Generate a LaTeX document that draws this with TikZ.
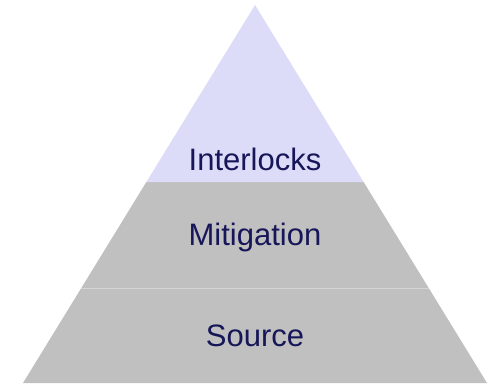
\documentclass[tikz,border=0pt]{standalone}
\usepackage{fontspec}
\setmainfont{Liberation Sans}
\usetikzlibrary{calc}
\definecolor{lavender}{RGB}{220,220,248}
\definecolor{layergray}{RGB}{192,192,192}
\definecolor{seamgray}{RGB}{212,212,212}
\definecolor{labelblue}{RGB}{22,22,88}
\begin{document}
\begin{tikzpicture}[x=1pt, y=-1pt, line join=round, line cap=round, font=\fontsize{31}{36}\selectfont]
		\def\cx{255} \def\ytop{5} \def\ybot{383} \def\half{232} % Kích thước
		\def\ya{182} \def\yb{288}
		\useasboundingbox (0,0) rectangle (495,383);
		\coordinate (apex) at (\cx,\ytop);
		\coordinate (bl) at (\cx-\half,\ybot);
		\coordinate (br) at (\cx+\half,\ybot);
		\coordinate (al) at ($(apex)!{(\ya-\ytop)/(\ybot-\ytop)}!(bl)$);
		\coordinate (ar) at ($(apex)!{(\ya-\ytop)/(\ybot-\ytop)}!(br)$);
		\coordinate (sl) at ($(apex)!{(\yb-\ytop)/(\ybot-\ytop)}!(bl)$);
		\coordinate (sr) at ($(apex)!{(\yb-\ytop)/(\ybot-\ytop)}!(br)$);
		\fill[layergray] (al)--(bl)--(br)--(ar)--cycle;
		\fill[lavender] (apex)--(al)--(ar)--cycle;
		\draw[seamgray, line width=1pt, line cap=butt] (sl)--(sr);
		\node[anchor=base, text=labelblue, inner sep=0pt] (interlocks) at (\cx,170) {Interlocks};
		\node[anchor=base, text=labelblue, inner sep=0pt] (mitigation) at (\cx,245) {Mitigation};
		\node[anchor=base, text=labelblue, inner sep=0pt] (source) at (\cx,346) {Source};
		\end{tikzpicture}
\end{document}
